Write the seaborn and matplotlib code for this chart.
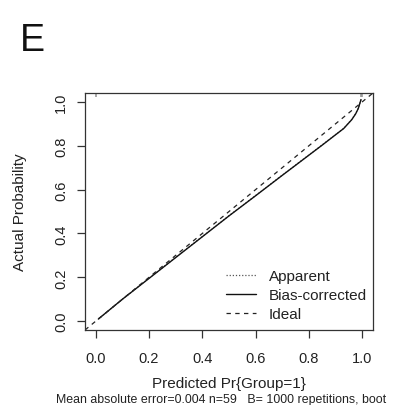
import matplotlib
matplotlib.use("Agg")
import matplotlib.pyplot as plt
import seaborn as sns
import pandas as pd
import numpy as np

# ---- data ----
pred_x = [0.01, 0.10, 0.20, 0.30, 0.40, 0.50, 0.60, 0.70, 0.80, 0.85, 0.90, 0.93, 0.96, 0.975, 0.985, 0.995]
bias_corrected = [0.01, 0.10, 0.195, 0.29, 0.385, 0.48, 0.572, 0.665, 0.757, 0.803, 0.85, 0.878, 0.918, 0.945, 0.97, 1.01]
apparent = [0.01, 0.10, 0.196, 0.291, 0.386, 0.481, 0.573, 0.666, 0.758, 0.804, 0.851, 0.879, 0.919, 0.946, 0.971, 1.01]
rug_x = [0.0, 0.995, 1.0]
x_ticks = [0.0, 0.2, 0.4, 0.6, 0.8, 1.0]
y_ticks = [0.0, 0.2, 0.4, 0.6, 0.8, 1.0]
tick_labels = ["0.0", "0.2", "0.4", "0.6", "0.8", "1.0"]
legend_labels = ["Apparent", "Bias-corrected", "Ideal"]
panel_letter = "E"
x_label = "Predicted Pr{Group=1}"
y_label = "Actual Probability"
subtitle = "Mean absolute error=0.004 n=59   B= 1000 repetitions, boot"

sns.set_theme(style="white")
plt.rcParams['font.family'] = ['Liberation Sans', 'DejaVu Sans']

W, H = 394, 406
fig = plt.figure(figsize=(W / 100, H / 100), dpi=100)
ax = fig.add_axes([85 / W, 1 - 331 / H, 288 / W, 237 / H])

df = pd.DataFrame({"x": pred_x, "apparent": apparent, "bias": bias_corrected})

sns.lineplot(data=df, x="x", y="apparent", ax=ax, color="#555555", lw=0.9,
             linestyle=(0, (1, 1.5)), label=legend_labels[0], sort=False)
sns.lineplot(data=df, x="x", y="bias", ax=ax, color="#111111", lw=1.0,
             label=legend_labels[1], sort=False)
ax.axline((0, 0), slope=1, color="#222222", lw=0.9, linestyle=(0, (3.5, 3.5)),
          label=legend_labels[2])

ax.vlines(rug_x, 1.02, 1.04, color="#999999", lw=1.2)

ax.set_xlim(-0.04, 1.04)
ax.set_ylim(-0.04, 1.04)
ax.set_xticks(x_ticks)
ax.set_xticklabels(tick_labels)
ax.set_yticks(y_ticks)
ax.set_yticklabels(tick_labels, rotation=90, va="center")

for s in ax.spines.values():
    s.set_color("#333333")
    s.set_linewidth(0.9)

ax.tick_params(axis="both", direction="out", length=6, width=0.9, color="#333333",
               labelsize=10.5, labelcolor="#222222", bottom=True, left=True)
ax.tick_params(axis="x", pad=9)
ax.tick_params(axis="y", pad=6)

ax.set_xlabel(x_label, fontsize=11, color="#222222", labelpad=8)
ax.set_ylabel(y_label, fontsize=11, color="#222222")
ax.yaxis.set_label_coords(-0.2, 0.5)

leg = ax.legend(loc="lower right", frameon=False, fontsize=11, handlelength=1.95,
                handletextpad=0.85, labelspacing=0.33, borderaxespad=0.0,
                bbox_to_anchor=(1.0, 0.012))
for t in leg.get_texts():
    t.set_color("#222222")

fig.text(32 / W, 1 - 41 / H, panel_letter, fontsize=27, ha="center", va="center",
         color="#111111")
fig.text(221 / W, 1 - 400 / H, subtitle, fontsize=8.9, ha="center", va="center",
         color="#222222")

fig.savefig("out.png", dpi=100)
